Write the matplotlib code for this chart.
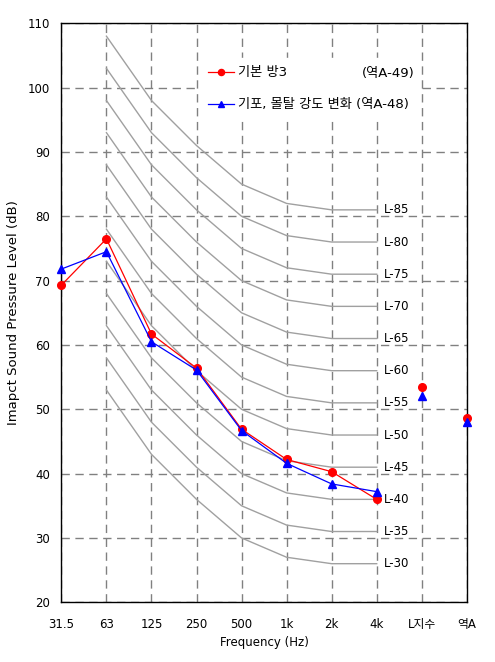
import matplotlib as mpl
mpl.use('Agg')
import matplotlib.pyplot as plt

plt.rcParams['font.family'] = ['DejaVu Sans', 'Noto Sans CJK KR']
plt.rcParams['font.size'] = 8

# categories on the x axis
cats = ['31.5', '63', '125', '250', '500', '1k', '2k', '4k', 'L지수', '역A']

# measured levels (dB), 31.5 .. 4k, then L-index and inverse-A
base_room = [69.3, 76.5, 61.7, 56.4, 46.9, 42.2, 40.3, 36.0]
base_idx = [53.5, 48.7]
mortar = [71.8, 74.5, 60.5, 56.1, 46.7, 41.6, 38.4, 37.2]
mortar_idx = [52.0, 48.0]

# L-curves: levels for 63..4k relative to the L number
l_numbers = [30, 35, 40, 45, 50, 55, 60, 65, 70, 75, 80, 85]
l_offsets = [23, 13, 6, 0, -3, -4, -4]

fig = plt.figure(figsize=(4.95, 6.62), dpi=100)
ax = fig.add_axes([0.124, 0.0902, 0.819, 0.8746])

xs = list(range(len(cats)))
lx = xs[1:8]
for n in l_numbers:
	ax.plot(lx, [n + o for o in l_offsets], color='#a0a0a0', lw=1.0, zorder=2)
	ax.text(7.17, n + l_offsets[-1], 'L-%d' % n, va='center', ha='left', fontsize=8.5, zorder=3)

ax.plot(xs[:8], base_room, color='red', marker='o', ms=5.5, lw=0.9, zorder=5,
	label='기본 방3', clip_on=False)
ax.plot(xs[8:], base_idx, color='red', marker='o', ms=5.5, lw=0, zorder=5, clip_on=False)
ax.plot(xs[:8], mortar, color='blue', marker='^', ms=5.5, lw=0.9, zorder=6,
	label='기포, 몰탈 강도 변화 (역A-48)', clip_on=False)
ax.plot(xs[8:], mortar_idx, color='blue', marker='^', ms=5.5, lw=0, zorder=6, clip_on=False)

ax.set_xlim(0, 9)
ax.set_ylim(20, 110)
ax.set_xticks(xs)
ax.set_xticklabels(cats, fontsize=8.5)
ax.set_yticks(range(20, 111, 10))
ax.tick_params(axis='y', labelsize=8.5)
ax.tick_params(length=0)
ax.tick_params(axis='x', pad=11)
ax.tick_params(axis='y', pad=8)
ax.grid(True, color='#808080', ls=(0, (6, 4)), lw=1.0, zorder=1)
ax.set_axisbelow(True)
for s in ax.spines.values():
	s.set_linewidth(1.0)

ax.set_xlabel('Frequency (Hz)', labelpad=4, fontsize=8.5)
ax.set_ylabel('Imapct Sound Pressure Level (dB)', labelpad=6, fontsize=9.5)

leg = ax.legend(loc='upper left', bbox_to_anchor=(0.326, 0.951), frameon=True,
	fancybox=False, edgecolor='white', facecolor='white', framealpha=1,
	handlelength=2.0, handletextpad=0.25, labelspacing=1.45, fontsize=9.5,
	borderpad=0.6, markerscale=0.8)
leg.set_zorder(8)
ax.text(0.741, 0.913, '(역A-49)', transform=ax.transAxes, fontsize=9.5,
	va='center', ha='left', zorder=10)

plt.savefig('out.png', dpi=100)
